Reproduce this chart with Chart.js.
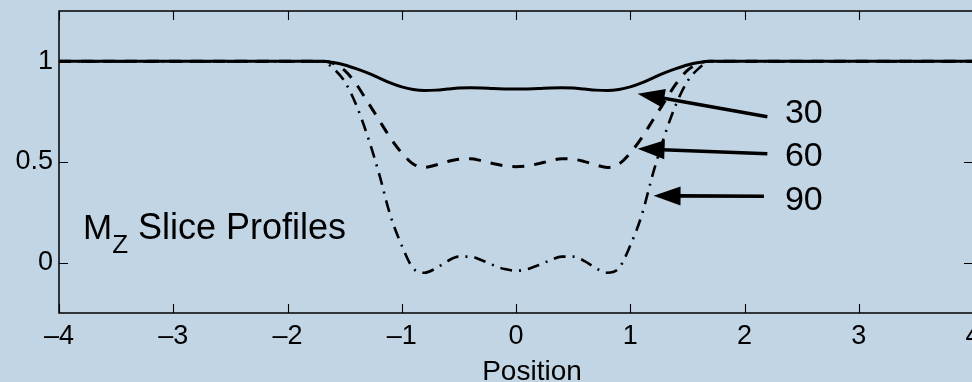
<!DOCTYPE html>
<html>
<head>
<meta charset="utf-8">
<script src="https://cdn.jsdelivr.net/npm/chart.js@4/dist/chart.umd.min.js"></script>
<style>
  html, body { margin: 0; padding: 0; overflow: hidden; background: #c2d5e5; width: 972px; height: 382px; }
  canvas { display: block; }
</style>
</head>
<body>
<canvas id="c" width="974" height="382"></canvas>
<script>
// Position along the slice-select axis
const positions = [-4, -1.8, -1.7, -1.6, -1.5, -1.4, -1.3, -1.2, -1.1, -1.0, -0.9, -0.8, -0.7, -0.6, -0.5, -0.4, -0.3, -0.2, -0.1, 0,
                   0.1, 0.2, 0.3, 0.4, 0.5, 0.6, 0.7, 0.8, 0.9, 1.0, 1.1, 1.2, 1.3, 1.4, 1.5, 1.6, 1.7, 1.8, 4];

// Longitudinal magnetisation after a 30, 60 and 90 degree pulse
const mz30 = [1, 1, 1, 0.994, 0.982, 0.964, 0.943, 0.918, 0.893, 0.873, 0.86, 0.855, 0.857, 0.862, 0.867, 0.869, 0.868, 0.865, 0.863, 0.862,
              0.863, 0.865, 0.868, 0.869, 0.867, 0.862, 0.857, 0.855, 0.86, 0.873, 0.893, 0.918, 0.943, 0.964, 0.982, 0.994, 1, 1, 1];
const mz60 = [1, 1, 1, 0.99, 0.955, 0.888, 0.80, 0.71, 0.62, 0.545, 0.49, 0.473, 0.485, 0.502, 0.514, 0.516, 0.506, 0.492, 0.481, 0.477,
              0.481, 0.492, 0.506, 0.516, 0.514, 0.502, 0.485, 0.473, 0.49, 0.545, 0.62, 0.71, 0.80, 0.888, 0.955, 0.99, 1, 1, 1];
const mz90 = [1, 1, 1, 0.965, 0.9, 0.785, 0.63, 0.445, 0.235, 0.085, -0.028, -0.05, -0.028, 0.008, 0.03, 0.03, 0.012, -0.012, -0.032, -0.04,
              -0.032, -0.012, 0.012, 0.03, 0.03, 0.008, -0.028, -0.05, -0.028, 0.085, 0.235, 0.445, 0.63, 0.785, 0.9, 0.965, 1, 1, 1];

const flipAngles = ['30', '60', '90'];

const xTicks = [-4, -3, -2, -1, 0, 1, 2, 3, 4];
const xTickLabels = ['\u20134', '\u20133', '\u20132', '\u20131', '0', '1', '2', '3', '4'];
const yTicks = [0, 0.5, 1];
const yTickLabels = ['0', '0.5', '1'];
const xTitle = 'Position';

// Callout arrows (data units): tail -> tip, and where each angle label sits
const arrowTails = [[2.2, 0.725], [2.2, 0.541], [2.17, 0.33]];
const arrowTips  = [[1.064, 0.839], [1.064, 0.566], [1.204, 0.332]];
const labelAnchors = [[2.354, 0.742], [2.354, 0.528], [2.354, 0.309]];
const captionAnchor = [-3.79, 0.119];
const xTitleAnchor = [0.14, -0.583];

const FONT = '"Liberation Sans", Arial, Helvetica, sans-serif';

function toPoints(values) {
  return positions.map((x, i) => ({ x: x, y: values[i] }));
}

const framePlugin = {
  id: 'frame',
  afterDatasetsDraw(chart) {
    const { ctx, chartArea: a, scales: { x, y } } = chart;
    ctx.save();
    ctx.strokeStyle = '#000';
    ctx.lineWidth = 1.5;
    ctx.strokeRect(a.left, a.top, a.right - a.left, a.bottom - a.top);
    ctx.lineWidth = 1.1;
    ctx.beginPath();
    const tl = 9;
    xTicks.forEach(v => {
      const px = Math.round(x.getPixelForValue(v)) + 0.5;
      ctx.moveTo(px, a.bottom); ctx.lineTo(px, a.bottom - tl);
      ctx.moveTo(px, a.top);    ctx.lineTo(px, a.top + tl);
    });
    yTicks.forEach(v => {
      const py = Math.round(y.getPixelForValue(v)) + 0.5;
      ctx.moveTo(a.left, py);  ctx.lineTo(a.left + tl, py);
      ctx.moveTo(a.right, py); ctx.lineTo(a.right - tl, py);
    });
    ctx.stroke();
    ctx.restore();
  }
};

const calloutPlugin = {
  id: 'callouts',
  afterDraw(chart) {
    const { ctx, scales: { x, y } } = chart;
    ctx.save();
    ctx.fillStyle = '#000';
    ctx.strokeStyle = '#000';
    ctx.lineWidth = 3.6;
    ctx.lineCap = 'butt';
    arrowTails.forEach((t, i) => {
      const x0 = x.getPixelForValue(t[0]), y0 = y.getPixelForValue(t[1]);
      const x1 = x.getPixelForValue(arrowTips[i][0]), y1 = y.getPixelForValue(arrowTips[i][1]);
      const ang = Math.atan2(y1 - y0, x1 - x0);
      const hl = 27, hw = 9.5;
      const bx = x1 - hl * Math.cos(ang), by = y1 - hl * Math.sin(ang);
      ctx.beginPath();
      ctx.moveTo(x0, y0);
      ctx.lineTo(bx + 2 * Math.cos(ang), by + 2 * Math.sin(ang));
      ctx.stroke();
      ctx.beginPath();
      ctx.moveTo(x1, y1);
      ctx.lineTo(bx - hw * Math.sin(ang), by + hw * Math.cos(ang));
      ctx.lineTo(bx + hw * Math.sin(ang), by - hw * Math.cos(ang));
      ctx.closePath();
      ctx.fill();
    });

    ctx.font = '34px ' + FONT;
    ctx.textAlign = 'left';
    ctx.textBaseline = 'middle';
    labelAnchors.forEach((p, i) => {
      ctx.fillText(flipAngles[i], x.getPixelForValue(p[0]), y.getPixelForValue(p[1]));
    });

    // M_z slice profile caption with subscript
    ctx.textBaseline = 'alphabetic';
    let tx = x.getPixelForValue(captionAnchor[0]);
    const ty = y.getPixelForValue(captionAnchor[1]);
    ctx.font = '35px ' + FONT;
    ctx.fillText('M', tx, ty);
    tx += ctx.measureText('M').width;
    ctx.font = '26px ' + FONT;
    ctx.fillText('Z', tx, ty + 14);
    tx += ctx.measureText('Z').width;
    ctx.font = '36px ' + FONT;
    ctx.fillText(' Slice Profiles', tx, ty);

    // x-axis title
    ctx.font = '28px ' + FONT;
    ctx.textAlign = 'center';
    ctx.fillText(xTitle, x.getPixelForValue(xTitleAnchor[0]), y.getPixelForValue(xTitleAnchor[1]));
    ctx.restore();
  }
};

new Chart(document.getElementById('c'), {
  type: 'line',
  data: {
    datasets: [
      { label: flipAngles[0], data: toPoints(mz30), borderColor: '#000', borderWidth: 3, pointRadius: 0, cubicInterpolationMode: 'monotone' },
      { label: flipAngles[1], data: toPoints(mz60), borderColor: '#000', borderWidth: 3, borderDash: [12, 10], pointRadius: 0, cubicInterpolationMode: 'monotone' },
      { label: flipAngles[2], data: toPoints(mz90), borderColor: '#000', borderWidth: 2.6, borderDash: [12, 7, 2, 7], pointRadius: 0, cubicInterpolationMode: 'monotone' }
    ]
  },
  options: {
    responsive: false,
    animation: false,
    devicePixelRatio: 1,
    layout: { padding: { top: 11, left: 0, right: 1, bottom: 0 } },
    plugins: { legend: { display: false }, tooltip: { enabled: false } },
    scales: {
      x: {
        type: 'linear',
        min: -4, max: 4,
        grid: { display: false, drawTicks: false },
        border: { display: false },
        afterBuildTicks: s => { s.ticks = xTicks.map(v => ({ value: v })); },
        afterFit: s => { s.height = 69; s.paddingLeft = 0; s.paddingRight = 0; },
        ticks: {
          autoSkip: false, maxRotation: 0, padding: 7, color: '#000',
          font: { family: FONT, size: 27 },
          callback: v => xTickLabels[xTicks.indexOf(v)]
        },
        title: { display: false }
      },
      y: {
        type: 'linear',
        min: -0.25, max: 1.25,
        grid: { display: false, drawTicks: false },
        border: { display: false },
        afterBuildTicks: s => { s.ticks = yTicks.map(v => ({ value: v })); },
        afterFit: s => { s.width = 59; s.paddingTop = 0; s.paddingBottom = 0; },
        ticks: {
          padding: 6, color: '#000',
          font: { family: FONT, size: 27 },
          callback: v => yTickLabels[yTicks.indexOf(v)]
        }
      }
    }
  },
  plugins: [framePlugin, calloutPlugin]
});
</script>
</body>
</html>
